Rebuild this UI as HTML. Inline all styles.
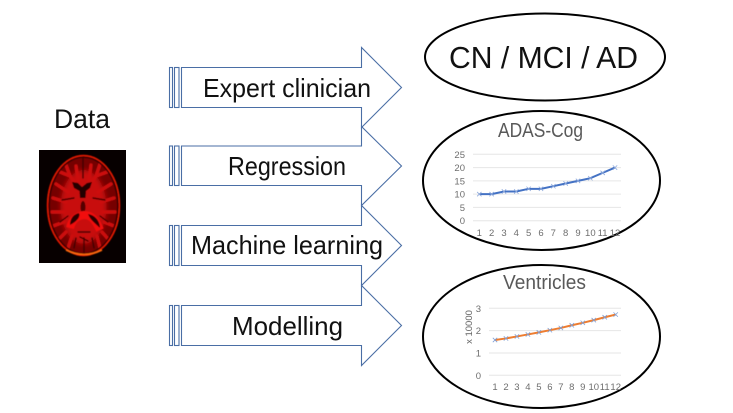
<!DOCTYPE html>
<html>
<head>
<meta charset="utf-8">
<title>Data to outcomes diagram</title>
<style>
html,body{margin:0;padding:0;background:#fff;width:733px;height:413px;overflow:hidden}
svg{display:block;font-family:"Liberation Sans",sans-serif}
</style>
</head>
<body>
<svg id="stage" width="733" height="413" viewBox="0 0 733 413" xmlns="http://www.w3.org/2000/svg">
<defs>
<filter id="soft" x="-10%" y="-10%" width="120%" height="120%"><feGaussianBlur stdDeviation="0.6"/></filter>
<filter id="soft2" x="-20%" y="-20%" width="140%" height="140%"><feGaussianBlur stdDeviation="2.5"/></filter>
<clipPath id="brain-clip"><ellipse cx="83.5" cy="205.5" rx="33.5" ry="47.5"/></clipPath>
</defs>
<rect x="0" y="0" width="733" height="413" fill="#fff"/>

<text x="54" y="128" font-size="27" fill="#111" textLength="56" lengthAdjust="spacingAndGlyphs">Data</text>

<g>
<rect x="39" y="150" width="87" height="113" fill="#070000"/>
<g filter="url(#soft)">
<ellipse cx="83.5" cy="205.5" rx="36" ry="50" fill="#3a0202" stroke="#e81a06" stroke-width="1.5"/>
<path d="M66 250 Q84 259 102 250" fill="none" stroke="#ff6a10" stroke-width="1.6"/>
<ellipse cx="83.5" cy="205.5" rx="33.5" ry="47.5" fill="#760606"/>
<g clip-path="url(#brain-clip)">
<ellipse cx="83.5" cy="207" rx="23" ry="37" fill="#c80a0a" filter="url(#soft2)"/>
<g fill="none" stroke="#cc0b0b" stroke-width="3.4" stroke-linecap="round">
<path d="M80 190 L70 176 L66 165"/><path d="M70 176 L60 172"/>
<path d="M87 190 L96 176 L100 164"/><path d="M96 176 L107 172"/>
<path d="M76 166 L78 180"/><path d="M91 165 L89 180"/>
<path d="M68 192 L56 184"/><path d="M98 192 L111 184"/>
<path d="M66 202 L53 198"/><path d="M101 202 L114 198"/>
<path d="M64 212 L52 212"/><path d="M103 212 L115 212"/>
<path d="M64 222 L53 226"/><path d="M104 222 L114 226"/>
<path d="M66 232 L58 240"/><path d="M102 232 L109 240"/>
<path d="M72 236 L68 248"/><path d="M97 236 L100 248"/>
</g>
<g fill="none" stroke="#3c0303" stroke-width="1.4" stroke-linecap="round">
<path d="M83 157 L83 178"/><path d="M84 238 L84 252"/>
<path d="M62 200 L74 198"/><path d="M105 200 L93 198"/>
<path d="M60 222 L68 216"/><path d="M108 222 L100 216"/>
<path d="M76 238 L74 248"/><path d="M92 238 L94 248"/>
<path d="M78 232 L90 232"/><path d="M80 237 L88 241"/>
</g>
</g>
<path d="M72 182 L78 183 L82 187 L87 183 L92 182 L90 188 L86 191 L85.5 198 L80 198 L79.5 191 L74 188 Z" fill="#240202"/>
<ellipse cx="83" cy="207" rx="2.5" ry="6" fill="#520404"/>
<path d="M70 228 C72 220 76 216 84 215 C92 215 96 221 100 230" fill="none" stroke="#f21010" stroke-width="8"/>
<path d="M70 225 C70 218 74 214 79 213 C81 217 76 222 70 225 Z" fill="#2a0202"/>
<path d="M88 214 C95 215 100 221 100 228 C96 224 90 220 88 214 Z" fill="#2a0202"/>
</g>
</g>

<g fill="#fff" stroke="#4a6ea5" stroke-width="1.1">
<g>
<rect x="169.5" y="67.5" width="3" height="40"/><rect x="174.5" y="67.5" width="4.5" height="40"/>
<path d="M181.5 67.5 H361.5 V47.5 L401.5 87.5 L361.5 127.5 V107.5 H181.5 Z"/>
</g>
<g>
<rect x="169.5" y="146" width="3" height="39.5"/><rect x="174.5" y="146" width="4.5" height="39.5"/>
<path d="M181.5 146 H361.5 V126.5 L401.5 166 L361.5 205.5 V185.5 H181.5 Z"/>
</g>
<g>
<rect x="169.5" y="225.5" width="3" height="40"/><rect x="174.5" y="225.5" width="4.5" height="40"/>
<path d="M181.5 225.5 H361.5 V205.5 L401.5 245.5 L361.5 285.5 V265.5 H181.5 Z"/>
</g>
<g>
<rect x="169.5" y="305.5" width="3" height="40"/><rect x="174.5" y="305.5" width="4.5" height="40"/>
<path d="M181.5 305.5 H361.5 V285.5 L401.5 325.5 L361.5 365.5 V345.5 H181.5 Z"/>
</g>
</g>
<g font-size="26" fill="#111">
<text x="203" y="97" textLength="168" lengthAdjust="spacingAndGlyphs">Expert clinician</text>
<text x="228" y="175" textLength="118" lengthAdjust="spacingAndGlyphs">Regression</text>
<text x="191" y="254" textLength="192" lengthAdjust="spacingAndGlyphs">Machine learning</text>
<text x="232" y="335" textLength="111" lengthAdjust="spacingAndGlyphs">Modelling</text>
</g>

<g>
<ellipse cx="545" cy="57" rx="120" ry="43.5" fill="#fff" stroke="#000" stroke-width="2"/>
<text x="449" y="68" font-size="31" fill="#111" textLength="189" lengthAdjust="spacingAndGlyphs">CN / MCI / AD</text>
</g>
<g>
<ellipse cx="541.5" cy="180.5" rx="118.5" ry="69.5" fill="#fff" stroke="#000" stroke-width="2"/>
<text x="498" y="137" font-size="20" fill="#595959" textLength="85" lengthAdjust="spacingAndGlyphs">ADAS-Cog</text>
<g id="chart-adas"></g>
</g>
<g>
<ellipse cx="541.5" cy="336.5" rx="118.5" ry="71.5" fill="#fff" stroke="#000" stroke-width="2"/>
<text x="503" y="289" font-size="20" fill="#595959" textLength="83" lengthAdjust="spacingAndGlyphs">Ventricles</text>
<text transform="translate(472,327) rotate(-90)" font-size="9.5" fill="#666" text-anchor="middle">x 10000</text>
<g id="chart-ventricles"></g>
</g>
</svg>
<script>
var adasCategories = ["1","2","3","4","5","6","7","8","9","10","11","12"];
var adasValues = [10,10,11,11,12,12,13,14,15,16,18,20];
var adasTicks = [0,5,10,15,20,25];
var ventriclesCategories = ["1","2","3","4","5","6","7","8","9","10","11","12"];
var ventriclesValues = [1.58,1.65,1.74,1.83,1.92,2.02,2.12,2.24,2.35,2.47,2.60,2.72];
var ventriclesTicks = [0,1,2,3];

var NS = 'http://www.w3.org/2000/svg';
function make(parent, tag, attrs) {
  var el = document.createElementNS(NS, tag);
  for (var k in attrs) el.setAttribute(k, attrs[k]);
  parent.appendChild(el);
  return el;
}
function drawChart(id, categories, values, ticks, box, lineColor, markerColor) {
  var root = document.getElementById(id);
  var maxTick = ticks[ticks.length - 1];
  function xScale(i) { return box.x1 + (box.x2 - box.x1) * i / (categories.length - 1); }
  function yScale(v) { return box.y0 + (box.yTop - box.y0) * v / maxTick; }
  ticks.forEach(function (t) {
    var grid = make(root, 'line', {x1: box.gridLeft, x2: box.gridRight, y1: yScale(t), y2: yScale(t), stroke: '#e6e6e6', 'stroke-width': 1});
    
    
    var label = make(root, 'text', {x: box.tickX, y: yScale(t) + 3.5, 'font-size': 9.5, fill: '#6e6e6e', 'text-anchor': 'end'});
    
    
    label.textContent = t;
  });
  categories.forEach(function (c, i) {
    var label = make(root, 'text', {x: xScale(i), y: box.labelY, 'font-size': 9.5, fill: '#6e6e6e', 'text-anchor': 'middle'});
    
    
    label.textContent = c;
  });
  var points = values.map(function (v, i) { return xScale(i) + ',' + yScale(v); }).join(' ');
  var line = make(root, 'polyline', {points: points, fill: 'none', stroke: lineColor, 'stroke-width': 2});
  
  
  values.forEach(function (v, i) {
    var px = xScale(i), py = yScale(v), r = 2.2;
    var mark = make(root, 'path', {d: 'M' + (px - r) + ' ' + (py - r) + 'L' + (px + r) + ' ' + (py + r) + 'M' + (px - r) + ' ' + (py + r) + 'L' + (px + r) + ' ' + (py - r), stroke: markerColor, 'stroke-width': 0.8, fill: 'none'});
    
    
  });
}
drawChart('chart-adas', adasCategories, adasValues, adasTicks,
  {x1: 479.3, x2: 615, y0: 220.7, yTop: 154.3, gridLeft: 473, gridRight: 621, tickX: 465, labelY: 236}, '#4472c4', '#8faadc');
drawChart('chart-ventricles', ventriclesCategories, ventriclesValues, ventriclesTicks,
  {x1: 495, x2: 615.7, y0: 375.3, yTop: 308.3, gridLeft: 489, gridRight: 621, tickX: 481, labelY: 390}, '#ed7d31', '#7f9fd6');
</script>
</body>
</html>
